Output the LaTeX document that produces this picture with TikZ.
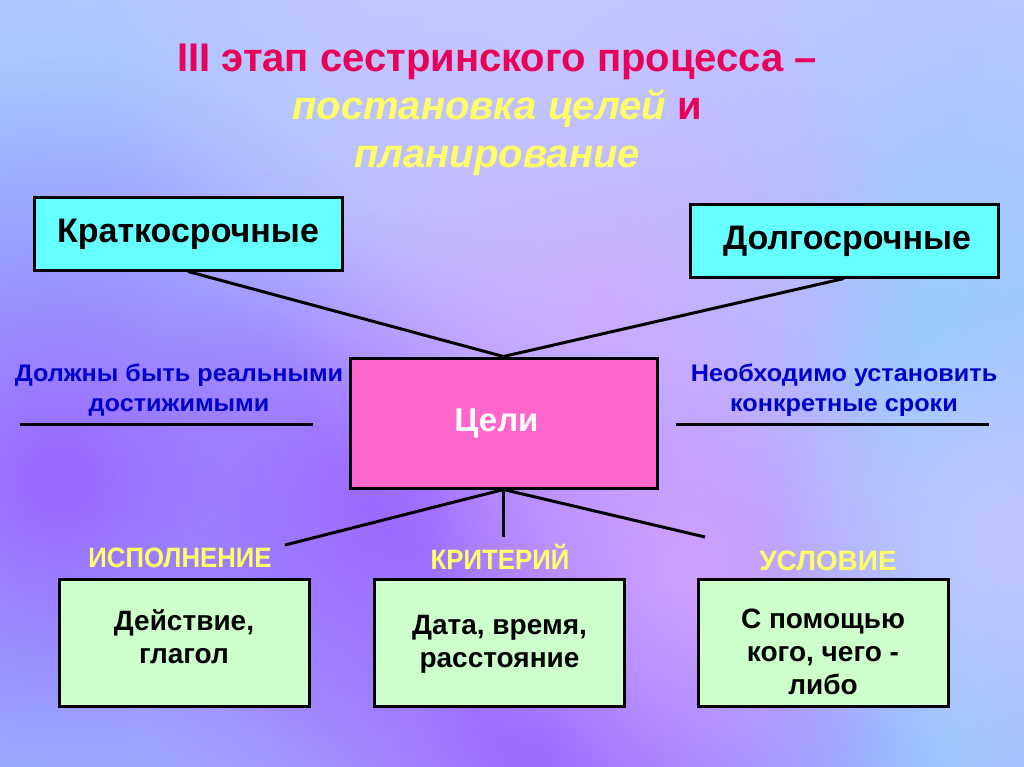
\documentclass[tikz,border=0pt]{standalone}
\usepackage{fontspec}
\setmainfont{Liberation Sans}
\newfontfamily\narrowfont[FakeStretch=0.92]{Liberation Sans}
\newfontfamily\widefont[FakeStretch=1.05]{Liberation Sans}
\usepackage{xcolor}
\usepackage{tikz}
\usetikzlibrary{fadings}

\definecolor{titlered}{HTML}{E8005A}
\definecolor{titleyellow}{HTML}{FFFF66}
\definecolor{notesblue}{HTML}{0000CC}
\definecolor{boxcyan}{HTML}{66FFFF}
\definecolor{boxpink}{HTML}{FF66CC}
\definecolor{boxgreen}{HTML}{CCFFCC}
\definecolor{bgtop}{HTML}{C2C6FF}
\definecolor{bgmid}{HTML}{B9A2FF}
\definecolor{bgbot}{HTML}{B6B2FF}
\definecolor{bgblue}{HTML}{99CCFF}
\definecolor{bgpurple}{HTML}{9966FF}
\definecolor{bglilac}{HTML}{D0A0FF}

\tikzfading[name=softblob, inner color=transparent!0, outer color=transparent!100]

\tikzset{
	blob/.style={fill=#1, path fading=softblob},
	box/.style={draw=black, line width=3pt, inner sep=0pt, align=center},
	topbox/.style={box, fill=boxcyan, minimum width=308pt, minimum height=72pt,
		font=\fontsize{34}{38}\selectfont\bfseries},
	lowbox/.style={box, fill=boxgreen, minimum width=250pt, minimum height=127pt},
	lowtext/.style={align=center, font=\fontsize{28}{33}\selectfont\bfseries},
	note/.style={align=center, text=notesblue, font=\fontsize{24}{30}\selectfont\widefont\bfseries},
	tag/.style={text=titleyellow, font=\fontsize{28}{32}\selectfont\narrowfont\bfseries},
	link/.style={line width=3pt, black}
}

\begin{document}
\begin{tikzpicture}[x=1pt,y=-1pt]
	\useasboundingbox (0,0) rectangle (1024,767);
	\shade[top color=bgtop, middle color=bgmid, bottom color=bgbot] (0,0) rectangle (1024,767);
	\begin{scope}
		\clip (0,0) rectangle (1024,767);
		\fill[blob=bgblue] (20,250) circle (460);
		\fill[blob=bgblue] (930,340) circle (460);
		\fill[blob=bgblue] (40,720) circle (380);
		\fill[blob=bgblue] (890,710) circle (320);
		\fill[blob=bgpurple] (60,480) circle (420);
		\fill[blob=bgpurple] (550,740) circle (400);
		\fill[blob=bgpurple] (400,490) circle (280);
		\fill[blob=bglilac] (600,290) circle (320);
		\fill[blob=bglilac] (690,570) circle (260);
		\fill[blob=bgtop] (540,10) circle (440);
		\fill[blob=bgtop] (1010,540) circle (240);
	\end{scope}

	\node[align=center, text=titlered, font=\fontsize{40}{48}\selectfont\bfseries] (title) at (497,110)
		{III этап сестринского процесса –\\{\color{titleyellow}\itshape постановка целей} и\\{\color{titleyellow}\itshape планирование}};

	\node[topbox] (Kr) at (188,234) {Краткосрочные};
	\node[topbox] (Dl) at (844,241) {\hspace{6pt}Долгосрочные};
	\node[box, fill=boxpink, minimum width=307pt, minimum height=130pt, text=white,
		font=\fontsize{33}{38}\selectfont\bfseries] (Ts) at (503.5,423) {Цели\hspace{14pt}};

	\node[note] (Nl) at (179,390) {Должны быть реальными\\достижимыми};
	\node[note] (Nr) at (844,390) {Необходимо установить\\конкретные сроки};
	\coordinate (La) at (20,424);
	\coordinate (Lb) at (313,424);
	\coordinate (Ra) at (676,424);
	\coordinate (Rb) at (989,424);
	\draw[link] (La) -- (Lb);
	\draw[link] (Ra) -- (Rb);

	\coordinate (E1) at (285,545);
	\coordinate (E2) at (503.5,537);
	\coordinate (E3) at (705,537);
	\draw[link] (Kr.south) -- (Ts.north);
	\draw[link] (Dl.south) -- (Ts.north);
	\draw[link] (Ts.south) -- (E1);
	\draw[link] (Ts.south) -- (E2);
	\draw[link] (Ts.south) -- (E3);

	\node[tag] (T1) at (180,558) {ИСПОЛНЕНИЕ};
	\node[tag] (T2) at (500,557) {КРИТЕРИЙ};
	\node[tag, font=\fontsize{28}{32}\selectfont\bfseries] (T3) at (828,561) {УСЛОВИЕ};

	\node[lowbox, label={[lowtext, yshift=6pt]center:Действие,\\глагол}] (B1) at (184,642.5) {};
	\node[lowbox, label={[lowtext, yshift=-2pt]center:Дата, время,\\расстояние}] (B2) at (499.5,642.5) {};
	\node[lowbox, label={[lowtext, yshift=-9pt]center:С помощью\\кого, чего -\\либо}] (B3) at (823,642.5) {};
\end{tikzpicture}
\end{document}
